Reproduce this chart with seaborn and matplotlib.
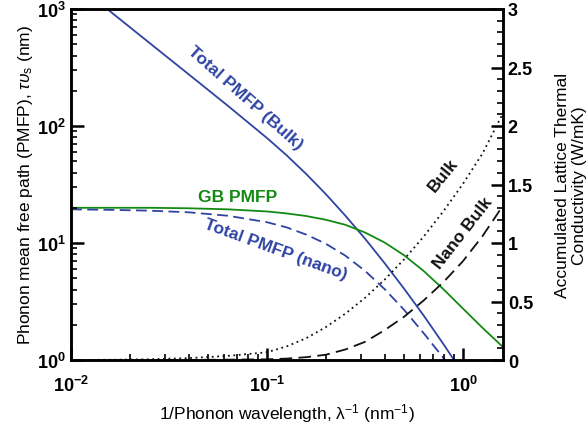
import numpy as np
import pandas as pd
import matplotlib
matplotlib.use("Agg")
import matplotlib.pyplot as plt
import matplotlib.ticker as mticker
import seaborn as sns

# ---- data ----
bulk_x = [0.0153, 0.0251, 0.0398, 0.0631, 0.1, 0.1259, 0.1585, 0.1995, 0.2512, 0.3162,
          0.398, 0.501, 0.631, 0.794, 0.9]
bulk_y = [1000, 514, 277, 149, 78.9, 56.2, 38.9, 26.2, 17.1, 10.9,
          6.73, 4.06, 2.39, 1.37, 1.0]

gb_x = [0.01, 0.0158, 0.0251, 0.0398, 0.0631, 0.1, 0.1259, 0.1585, 0.1995, 0.2512,
        0.3162, 0.398, 0.501, 0.631, 0.794, 1.0, 1.259, 1.6]
gb_y = [20.0, 20.0, 20.0, 19.8, 19.4, 18.6, 17.9, 17.0, 15.8, 14.3,
        12.3, 10.1, 7.85, 5.75, 4.03, 2.75, 1.88, 1.29]

nano_x = [0.01, 0.0158, 0.0251, 0.0398, 0.0631, 0.1, 0.1259, 0.1585, 0.1995, 0.2512,
          0.3162, 0.398, 0.501, 0.631, 0.81]
nano_y = [19.4, 19.2, 18.9, 18.3, 17.1, 15.05, 13.6, 11.8, 9.86, 7.79,
          5.78, 4.04, 2.68, 1.69, 1.0]

kb_x = [0.01, 0.0158, 0.0251, 0.0398, 0.0631, 0.1, 0.1259, 0.1585, 0.1995, 0.2512,
        0.3162, 0.398, 0.501, 0.631, 0.794, 1.0, 1.259, 1.6]
kb_y = [0.0, 0.002, 0.006, 0.016, 0.035, 0.066, 0.116, 0.186, 0.281, 0.396,
        0.531, 0.686, 0.861, 1.056, 1.271, 1.506, 1.766, 2.11]

kn_x = [0.01, 0.0251, 0.0398, 0.0631, 0.1, 0.1259, 0.1585, 0.1995, 0.2512, 0.3162,
        0.398, 0.501, 0.631, 0.794, 1.0, 1.259, 1.6]
kn_y = [0.0, 0.0, 0.001, 0.003, 0.006, 0.012, 0.024, 0.045, 0.09, 0.155,
        0.255, 0.37, 0.51, 0.665, 0.845, 1.06, 1.32]

left_ticks = [1, 10, 100, 1000]
bottom_ticks = [0.01, 0.1, 1]
right_ticks = [0, 0.5, 1, 1.5, 2, 2.5, 3]
right_labels = ["0", "0.5", "1", "1.5", "2", "2.5", "3"]

# ---- style (plain matplotlib rc, seaborn draws the lines) ----
plt.rcParams.update({
    "font.family": ["Liberation Sans", "DejaVu Sans"],
    "mathtext.fontset": "custom",
    "mathtext.rm": "Liberation Sans",
    "mathtext.it": "Liberation Sans:italic",
    "mathtext.bf": "Liberation Sans:bold",
    "axes.axisbelow": False,
    "axes.edgecolor": "black",
    "axes.linewidth": 1.8,
})

BLUE = "#2e43a3"
GREEN = "#138a13"
BLACK = "#111111"

fig = plt.figure(figsize=(5.88, 4.27), dpi=100)
ax = fig.add_axes([71 / 588, 1 - 361 / 427, (503 - 71) / 588, (361 - 10) / 427])
ax.set_xscale("log")
ax.set_yscale("log")
ax2 = ax.twinx()

sns.lineplot(x=bulk_x, y=bulk_y, ax=ax, color=BLUE, lw=1.3, sort=False)
sns.lineplot(x=gb_x, y=gb_y, ax=ax, color=GREEN, lw=1.3, sort=False)
sns.lineplot(x=nano_x, y=nano_y, ax=ax, color=BLUE, lw=1.3, sort=False,
             linestyle=(0, (6, 3)))
sns.lineplot(x=kb_x, y=kb_y, ax=ax2, color=BLACK, lw=1.3, sort=False,
             linestyle=(0, (1, 2)))
sns.lineplot(x=kn_x, y=kn_y, ax=ax2, color=BLACK, lw=1.3, sort=False,
             linestyle=(0, (7, 3.5)))

ax.set_xlim(0.01, 1.6)
ax.set_ylim(1, 1000)
ax2.set_ylim(0, 3)

def pow_fmt(v, pos):
    e = int(round(np.log10(v)))
    return r"$\mathbf{10}^{\mathbf{%d}}$" % e

ax.xaxis.set_major_locator(mticker.FixedLocator(bottom_ticks))
ax.yaxis.set_major_locator(mticker.FixedLocator(left_ticks))
ax.xaxis.set_major_formatter(mticker.FuncFormatter(pow_fmt))
ax.yaxis.set_major_formatter(mticker.FuncFormatter(pow_fmt))
ax.xaxis.set_minor_locator(mticker.LogLocator(base=10, subs=tuple(range(2, 10)), numticks=20))
ax.yaxis.set_minor_locator(mticker.LogLocator(base=10, subs=tuple(range(2, 10)), numticks=20))
ax.xaxis.set_minor_formatter(mticker.NullFormatter())
ax.yaxis.set_minor_formatter(mticker.NullFormatter())

ax2.set_yticks(right_ticks)
ax2.set_yticklabels(right_labels, fontweight="bold")
ax2.yaxis.set_minor_locator(mticker.MultipleLocator(0.1))

ax.tick_params(axis="both", which="both", direction="in", left=True, bottom=True,
               top=False, right=False, color="black")
ax.tick_params(axis="both", which="major", length=9, width=1.8, labelsize=13)
ax.tick_params(axis="both", which="minor", length=4.5, width=1.2)
ax.tick_params(axis="x", which="major", pad=11)
ax2.tick_params(axis="y", which="both", direction="in", right=True, left=False,
                color="black")
ax2.tick_params(axis="y", which="major", length=9, width=1.8, labelsize=13)
ax2.tick_params(axis="y", which="minor", length=4.5, width=1.2)
for a in (ax.xaxis, ax.yaxis, ax2.yaxis):
    a.set_zorder(5)
for lab in ax2.get_yticklabels():
    lab.set_fontweight("bold")

ax.set_xlabel(r"1/Phonon wavelength, λ$^{\mathregular{-1}}$ (nm$^{\mathregular{-1}}$)",
              fontsize=12.5, labelpad=4)
ax.set_ylabel(r"Phonon mean free path (PMFP), $\tau\upsilon_{\mathregular{s}}$ (nm)",
              fontsize=12.5, labelpad=2)
ax2.set_ylabel("Accumulated Lattice Thermal\nConductivity (W/mK)", fontsize=12.5,
               labelpad=16, linespacing=1.1)

# ---- annotations ----
fig.text(245 / 588, 1 - 98 / 427, "Total PMFP (Bulk)", color=BLUE, fontsize=12.5,
         fontweight="bold", rotation=-41.5, ha="center", va="center")
fig.text(238 / 588, 1 - 197 / 427, "GB PMFP", color=GREEN, fontsize=12.5,
         fontweight="bold", ha="center", va="center")
fig.text(276 / 588, 1 - 250 / 427, "Total PMFP (nano)", color=BLUE, fontsize=12.5,
         fontweight="bold", rotation=-20, ha="center", va="center")
fig.text(443 / 588, 1 - 175 / 427, "Bulk", color=BLACK, fontsize=12.5,
         fontweight="bold", rotation=51, ha="center", va="center")
fig.text(463 / 588, 1 - 233 / 427, "Nano Bulk", color=BLACK, fontsize=12.5,
         fontweight="bold", rotation=52, ha="center", va="center")

fig.savefig("out.png", dpi=100)
